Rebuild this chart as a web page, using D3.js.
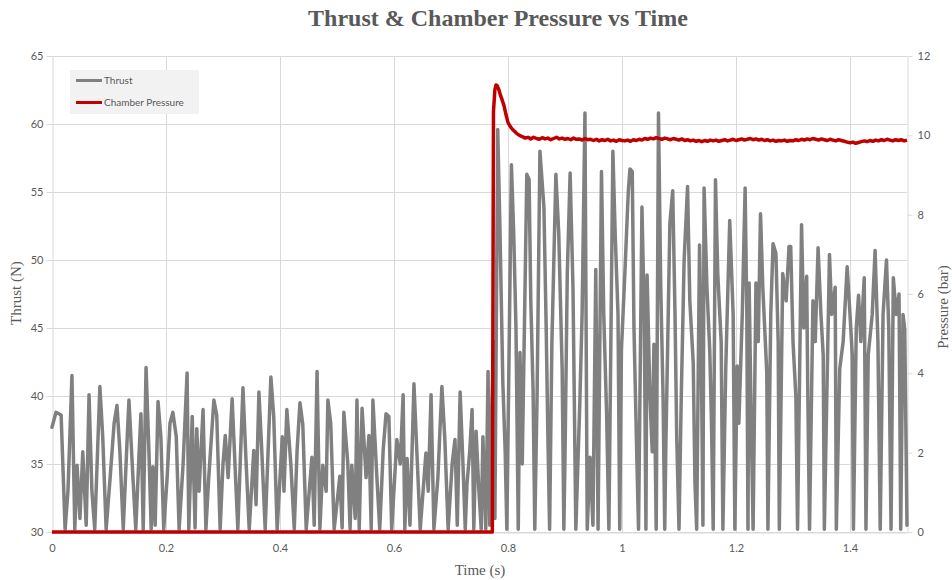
<!DOCTYPE html>
<html>
<head>
<meta charset="utf-8">
<script src="https://cdn.jsdelivr.net/npm/d3@7"></script>
<style>
  html, body { margin: 0; padding: 0; background: #ffffff; }
  svg { display: block; }
  .tick text { fill: #595959; font-family: Lato, "Liberation Sans", sans-serif; font-size: 11px; }
</style>
</head>
<body>
<svg id="chart" width="952" height="580"></svg>
<script>
// Thrust samples: time (s) and thrust (N)
const thrustTime = [
  0.000, 0.007, 0.016, 0.023, 0.028, 0.035, 0.040, 0.044, 0.049, 0.054,
  0.060, 0.065, 0.070, 0.075, 0.084, 0.089, 0.095, 0.102, 0.109, 0.114,
  0.119, 0.125, 0.132, 0.135, 0.142, 0.147, 0.153, 0.156, 0.160, 0.165,
  0.170, 0.174, 0.177, 0.181, 0.186, 0.191, 0.196, 0.202, 0.207, 0.212,
  0.218, 0.223, 0.230, 0.237, 0.240, 0.246, 0.251, 0.254, 0.258, 0.265,
  0.270, 0.275, 0.284, 0.289, 0.295, 0.300, 0.304, 0.309, 0.316, 0.321,
  0.326, 0.335, 0.340, 0.346, 0.354, 0.358, 0.363, 0.368, 0.374, 0.384,
  0.389, 0.395, 0.404, 0.407, 0.412, 0.419, 0.425, 0.430, 0.435, 0.440,
  0.446, 0.456, 0.460, 0.465, 0.470, 0.475, 0.481, 0.484, 0.489, 0.495,
  0.505, 0.509, 0.512, 0.519, 0.523, 0.526, 0.532, 0.535, 0.539, 0.544,
  0.551, 0.556, 0.560, 0.563, 0.570, 0.575, 0.581, 0.586, 0.591, 0.596,
  0.605, 0.611, 0.616, 0.619, 0.623, 0.628, 0.635, 0.640, 0.646, 0.656,
  0.660, 0.665, 0.670, 0.677, 0.684, 0.689, 0.695, 0.702, 0.707, 0.711,
  0.716, 0.721, 0.725, 0.728, 0.733, 0.737, 0.740, 0.744, 0.749, 0.753,
  0.756, 0.761, 0.765, 0.768, 0.774, 0.777,
  0.782, 0.786, 0.791, 0.795, 0.798, 0.806, 0.810, 0.814, 0.818, 0.821,
  0.825, 0.833, 0.837, 0.840, 0.844, 0.847, 0.851, 0.856, 0.863, 0.867,
  0.870, 0.873, 0.877, 0.884, 0.889, 0.895, 0.898, 0.900, 0.904, 0.909,
  0.914, 0.919, 0.926, 0.930, 0.935, 0.939, 0.944, 0.949, 0.954, 0.958,
  0.964, 0.968, 0.973, 0.977, 0.984, 0.988, 0.993, 0.996, 0.999, 1.005,
  1.011, 1.014, 1.018, 1.021, 1.026, 1.029, 1.035, 1.039, 1.042, 1.044,
  1.049, 1.053, 1.056, 1.060, 1.064, 1.068, 1.072, 1.075, 1.077, 1.084,
  1.089, 1.093, 1.096, 1.100, 1.104, 1.109, 1.115, 1.119, 1.125, 1.128,
  1.131, 1.136, 1.139, 1.142, 1.144, 1.149, 1.154, 1.157, 1.160, 1.164,
  1.168, 1.174, 1.177, 1.182, 1.189, 1.195, 1.198, 1.202, 1.205, 1.211,
  1.216, 1.219, 1.221, 1.223, 1.226, 1.228, 1.230, 1.235, 1.239, 1.243,
  1.247, 1.254, 1.256, 1.261, 1.265, 1.270, 1.274, 1.276, 1.282, 1.288,
  1.293, 1.296, 1.300, 1.305, 1.308, 1.315, 1.319, 1.324, 1.326, 1.329,
  1.335, 1.339, 1.344, 1.349, 1.353, 1.355, 1.364, 1.368, 1.374, 1.376,
  1.382, 1.388, 1.395, 1.400, 1.404, 1.406, 1.411, 1.415, 1.419, 1.425,
  1.428, 1.432, 1.439, 1.444, 1.449, 1.453, 1.458, 1.464, 1.468, 1.472,
  1.476, 1.481, 1.486, 1.489, 1.493, 1.496, 1.500
];
const thrustN = [
  37.7, 38.8, 38.6, 30.2, 33.0, 41.5, 30.2, 34.9, 31.0, 35.9,
  30.5, 40.1, 33.0, 30.2, 40.7, 37.0, 30.2, 34.0, 38.0, 39.3,
  36.0, 30.2, 37.0, 39.7, 34.0, 30.2, 36.0, 38.7, 30.2, 42.1,
  36.0, 30.2, 34.8, 30.5, 39.6, 37.0, 30.2, 34.0, 38.0, 38.8,
  37.0, 30.2, 35.0, 41.7, 30.2, 38.5, 30.3, 37.6, 33.0, 39.0,
  30.2, 34.0, 39.7, 38.6, 30.2, 35.0, 37.1, 34.0, 39.8, 35.0,
  30.2, 40.6, 35.6, 30.2, 36.0, 32.0, 40.3, 36.0, 30.2, 41.4,
  38.5, 30.2, 37.0, 33.0, 39.0, 35.0, 30.2, 36.0, 39.5, 37.9,
  30.2, 35.5, 30.5, 41.8, 30.2, 34.9, 33.0, 39.7, 38.0, 30.2,
  34.1, 30.3, 38.8, 35.0, 30.2, 34.9, 31.0, 39.7, 30.2, 39.1,
  34.0, 37.1, 30.2, 39.7, 34.0, 30.2, 36.0, 38.7, 38.5, 30.2,
  36.8, 35.0, 40.1, 30.2, 35.4, 30.5, 40.9, 36.0, 30.2, 35.8,
  33.0, 40.1, 30.2, 34.0, 40.7, 37.0, 30.2, 35.0, 36.8, 30.5,
  40.3, 35.0, 30.2, 33.5, 36.0, 39.0, 30.2, 37.4, 33.0, 30.2,
  37.0, 30.2, 41.8, 30.5, 44.0, 31.0,
  59.6, 52.0, 40.9, 36.0, 30.2, 57.0, 52.0, 45.0, 30.2, 43.2,
  35.0, 56.3, 55.9, 47.0, 40.4, 30.2, 40.0, 58.0, 53.9, 45.0,
  37.0, 30.2, 43.9, 56.3, 52.0, 42.0, 30.2, 35.5, 49.0, 56.4,
  48.0, 30.2, 39.5, 46.0, 60.8, 30.2, 35.5, 30.5, 49.3, 30.2,
  56.5, 46.0, 38.7, 30.2, 58.0, 52.0, 46.0, 30.2, 43.4, 49.0,
  55.0, 56.7, 56.5, 45.0, 35.5, 30.2, 53.9, 46.0, 30.2, 48.9,
  40.0, 35.9, 43.8, 30.2, 60.8, 48.0, 40.0, 30.2, 36.5, 52.7,
  55.1, 46.0, 37.0, 30.2, 40.0, 50.0, 55.4, 47.0, 42.4, 33.6,
  30.2, 51.1, 44.0, 30.5, 55.3, 48.0, 43.3, 38.0, 30.2, 55.9,
  49.0, 44.0, 30.2, 42.0, 52.9, 46.0, 30.2, 42.2, 38.0, 46.0,
  55.3, 46.0, 30.2, 48.3, 40.0, 35.0, 30.2, 48.3, 44.0, 53.4,
  48.0, 41.7, 30.2, 46.0, 51.2, 50.5, 44.0, 30.2, 49.0, 47.0,
  51.0, 51.0, 44.0, 40.0, 30.2, 52.6, 45.0, 48.8, 40.0, 30.2,
  47.0, 44.0, 50.9, 46.0, 43.0, 30.2, 50.4, 46.0, 48.0, 30.2,
  42.0, 44.0, 49.5, 46.0, 43.0, 30.2, 45.0, 47.4, 44.0, 48.7,
  30.2, 43.0, 46.0, 50.7, 44.0, 30.2, 46.0, 50.0, 45.0, 30.2,
  48.7, 46.0, 47.5, 30.2, 46.0, 44.9, 30.5
];

// Chamber pressure: ignition transient, then steady burn sampled every 5 ms
const pressureRampTime = [0.000, 0.7725, 0.7745, 0.777, 0.779, 0.781, 0.784, 0.787, 0.790, 0.793, 0.796];
const pressureRampBar  = [0.00, 0.00, 10.60, 11.15, 11.27, 11.25, 11.15, 11.00, 10.88, 10.75, 10.55];
const steadyStart = 0.800, steadyStep = 0.005;
const pressureSteadyBar = [
  10.32, 10.20, 10.12, 10.05, 10.00, 9.97, 9.93, 9.95, 9.91, 9.95,
  9.92, 9.90, 9.94, 9.91, 9.93, 9.89, 9.92, 9.95, 9.91, 9.93,
  9.90, 9.92, 9.89, 9.93, 9.90, 9.91, 9.88, 9.92, 9.89, 9.90,
  9.87, 9.90, 9.86, 9.89, 9.87, 9.90, 9.86, 9.88, 9.85, 9.89,
  9.87, 9.86, 9.88, 9.85, 9.89, 9.87, 9.90, 9.88, 9.92, 9.90,
  9.93, 9.91, 9.94, 9.92, 9.90, 9.93, 9.91, 9.89, 9.92, 9.90,
  9.88, 9.91, 9.87, 9.89, 9.86, 9.88, 9.85, 9.87, 9.84, 9.87,
  9.85, 9.88, 9.86, 9.88, 9.85, 9.87, 9.89, 9.86, 9.88, 9.90,
  9.87, 9.89, 9.91, 9.88, 9.90, 9.92, 9.89, 9.91, 9.88, 9.90,
  9.87, 9.89, 9.86, 9.88, 9.85, 9.87, 9.86, 9.88, 9.85, 9.87,
  9.86, 9.89, 9.87, 9.90, 9.88, 9.91, 9.89, 9.92, 9.90, 9.88,
  9.91, 9.89, 9.87, 9.90, 9.88, 9.86, 9.89, 9.87, 9.85, 9.83,
  9.81, 9.83, 9.80, 9.82, 9.84, 9.86, 9.84, 9.87, 9.85, 9.88,
  9.86, 9.89, 9.87, 9.90, 9.88, 9.86, 9.89, 9.87, 9.89, 9.86,
  9.88
];

// Axis ticks
const timeTicks = [0, 0.2, 0.4, 0.6, 0.8, 1, 1.2, 1.4];
const thrustTicks = [30, 35, 40, 45, 50, 55, 60, 65];
const pressureTicks = [0, 2, 4, 6, 8, 10, 12];

const chartTitle = "Thrust & Chamber Pressure vs Time";
const seriesNames = ["Thrust", "Chamber Pressure"];
const colors = { thrust: "#808080", pressure: "#c00000", grid: "#d9d9d9", text: "#595959" };

const thrust = thrustTime.map((t, i) => ({ t, v: thrustN[i] }));
const pressure = pressureRampTime.map((t, i) => ({ t, v: pressureRampBar[i] }))
  .concat(pressureSteadyBar.map((v, i) => ({ t: steadyStart + i * steadyStep, v })));

const margin = { left: 52, right: 45, top: 56, bottom: 48 };
const W = 952, H = 580;
const svg = d3.select("#chart");

const x = d3.scaleLinear().domain([0, 1.5]).range([margin.left, W - margin.right]);
const yL = d3.scaleLinear().domain([30, 65]).range([H - margin.bottom, margin.top]);
const yR = d3.scaleLinear().domain([0, 12]).range([H - margin.bottom, margin.top]);

// gridlines
const grid = svg.append("g").attr("stroke", colors.grid).attr("stroke-width", 1);
grid.selectAll("line.h").data(thrustTicks).join("line")
  .attr("x1", x(0)).attr("x2", x(1.5))
  .attr("y1", d => Math.round(yL(d)) + 0.5).attr("y2", d => Math.round(yL(d)) + 0.5);
grid.selectAll("line.v").data(timeTicks.filter(d => d > 0)).join("line")
  .attr("y1", yL(30)).attr("y2", yL(65))
  .attr("x1", d => Math.round(x(d)) + 0.5).attr("x2", d => Math.round(x(d)) + 0.5);

// axes
function styleAxis(g) {
  g.select(".domain").attr("stroke", colors.grid);
  g.selectAll(".tick line").attr("stroke", colors.grid);
}
svg.append("g").attr("transform", `translate(${margin.left + 0.5},0)`)
  .call(d3.axisLeft(yL).tickValues(thrustTicks).tickSize(6).tickPadding(3).tickSizeOuter(0))
  .call(styleAxis);
svg.append("g").attr("transform", `translate(${W - margin.right + 0.5},0)`)
  .call(d3.axisRight(yR).tickValues(pressureTicks).tickSize(5).tickPadding(5).tickSizeOuter(0))
  .call(styleAxis);
svg.append("g").attr("transform", `translate(0,${H - margin.bottom + 0.5})`)
  .call(d3.axisBottom(x).tickValues(timeTicks).tickFormat(d3.format("~g")).tickSize(0).tickPadding(12).tickSizeOuter(0))
  .call(styleAxis);

// series
const thrustLine = d3.line().x(d => x(d.t)).y(d => yL(d.v));
const pressureLine = d3.line().x(d => x(d.t)).y(d => yR(d.v));
svg.append("path").datum(thrust)
  .attr("d", thrustLine).attr("fill", "none")
  .attr("stroke", colors.thrust).attr("stroke-width", 3.5)
  .attr("stroke-linejoin", "round").attr("stroke-linecap", "round");
svg.append("path").datum(pressure)
  .attr("d", pressureLine).attr("fill", "none")
  .attr("stroke", colors.pressure).attr("stroke-width", 3.5)
  .attr("stroke-linejoin", "round");

// title and axis titles
svg.append("text").attr("x", 498).attr("y", 26).attr("text-anchor", "middle")
  .attr("font-family", "'Liberation Serif', serif").attr("font-weight", "bold")
  .attr("font-size", 24).attr("fill", colors.text).text(chartTitle);
svg.append("text").attr("x", 480).attr("y", 575).attr("text-anchor", "middle")
  .attr("font-family", "'Liberation Serif', serif").attr("font-size", 15)
  .attr("fill", colors.text).text("Time (s)");
svg.append("text").attr("transform", "translate(21,293) rotate(-90)").attr("text-anchor", "middle")
  .attr("font-family", "'Liberation Serif', serif").attr("font-size", 15)
  .attr("fill", colors.text).text("Thrust (N)");
svg.append("text").attr("transform", "translate(948,307) rotate(-90)").attr("text-anchor", "middle")
  .attr("font-family", "'Liberation Serif', serif").attr("font-size", 15)
  .attr("fill", colors.text).text("Pressure (bar)");

// legend
const legend = svg.append("g");
legend.append("rect").attr("x", 70).attr("y", 70).attr("width", 129).attr("height", 44).attr("fill", "#f2f2f2");
const legendItems = [
  { name: seriesNames[0], color: colors.thrust, y: 80.5 },
  { name: seriesNames[1], color: colors.pressure, y: 102.5 }
];
legendItems.forEach(item => {
  legend.append("line").attr("x1", 76).attr("x2", 102).attr("y1", item.y).attr("y2", item.y)
    .attr("stroke", item.color).attr("stroke-width", 3);
  legend.append("text").attr("x", 104).attr("y", item.y + 3.5)
    .attr("font-family", "Lato, 'Liberation Sans', sans-serif").attr("font-size", 10)
    .attr("fill", colors.text).text(item.name);
});
</script>
</body>
</html>
